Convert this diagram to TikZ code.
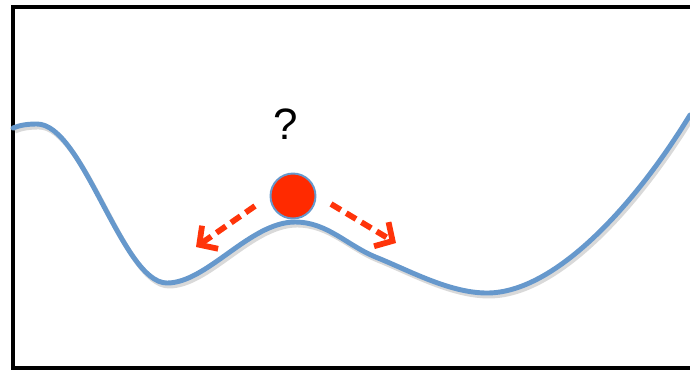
\documentclass[tikz,border=0pt]{standalone}
\usepackage{fontspec}
\setmainfont{Liberation Sans}
\usetikzlibrary{arrows.meta}

\definecolor{courbebleu}{RGB}{102,152,204}
\definecolor{billerouge}{RGB}{255,42,0}
\definecolor{flecherouge}{RGB}{255,52,10}

\tikzset{
  cadre/.style={line width=2.3pt, black},
  courbe/.style={line width=2.8pt, courbebleu, line cap=round},
  ombre/.style={line width=2.8pt, black!15},
  bille/.style={circle, fill=billerouge, draw=courbebleu, line width=1.1pt, minimum size=0.9cm, inner sep=0pt},
  fleche/.style={line width=3.3pt, flecherouge, dash pattern=on 6.5pt off 3.6pt,
    -{Straight Barb[length=7.5pt, width=16pt, line width=3.3pt]}}
}

% le paysage (en pixels)
\newcommand\paysage{(13,128) .. controls (20,125) and (28,124) .. (37,124)
  .. controls (83,124) and (122,283) .. (167,283)
  .. controls (207,283) and (250,222) .. (295,222)
  .. controls (328,222) and (347,246) .. (378,258)
  .. controls (410,271) and (450,293) .. (487,293)
  .. controls (555,293) and (635,205) .. (690,115)}

\begin{document}
\begin{tikzpicture}[x=0.02cm,y=-0.02cm]

  \useasboundingbox (0,0) rectangle (690,370);

  % Cadre
  \draw[cadre] (690,7) -- (13,7) -- (13,368) -- (690,368);

  % Paysage
  \draw[ombre, shift={(2,3)}] \paysage;
  \draw[courbe] \paysage;

  % Bille et question
  \node[bille] (bille) at (293,196) {};
  \node[font=\fontsize{25}{30}\selectfont] (question) at (286,124) {?};

  % Fleches
  \coordinate (gdep) at (255,206);
  \coordinate (garr) at (196,247);
  \coordinate (ddep) at (331,204);
  \coordinate (darr) at (396,243);
  \draw[fleche] (gdep) -- (garr);
  \draw[fleche] (ddep) -- (darr);

\end{tikzpicture}
\end{document}
